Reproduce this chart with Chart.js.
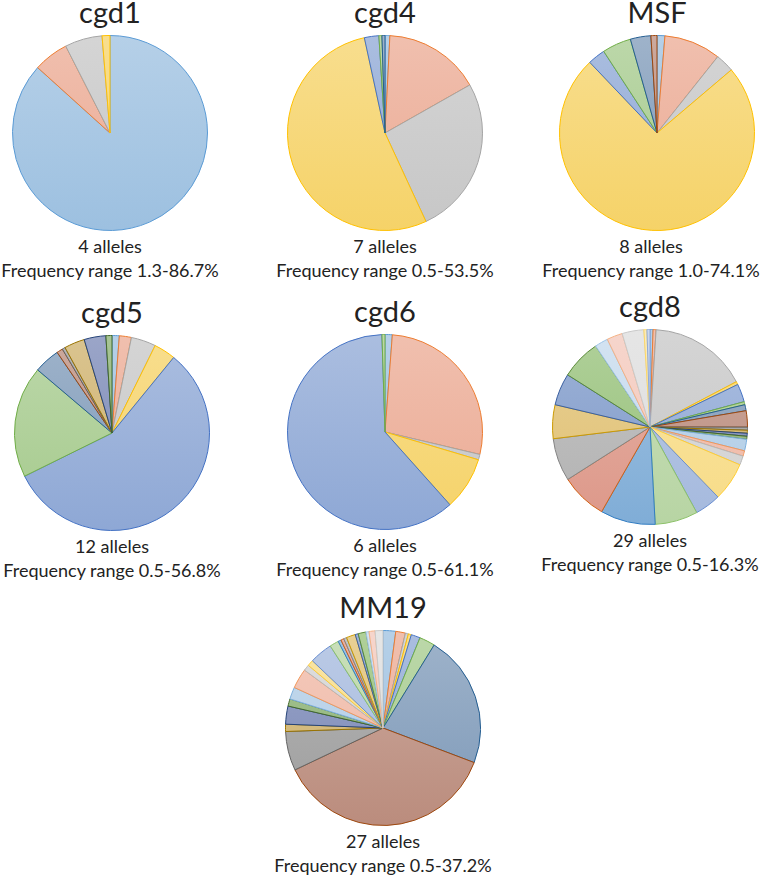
<!DOCTYPE html>
<html>
<head>
<meta charset="utf-8">
<script src="https://cdn.jsdelivr.net/npm/chart.js@4.4.0/dist/chart.umd.min.js"></script>
<style>
  body { margin: 0; background: #fff; }
  #page { position: relative; width: 764px; height: 878px; font-family: Lato, "Noto Sans", sans-serif; color: #222; }
  canvas { position: absolute; }
  .title { position: absolute; width: 240px; text-align: center; font-size: 29px; line-height: 30px; }
  .note { position: absolute; width: 270px; text-align: center; font-size: 18px; line-height: 24px; }
</style>
</head>
<body>
<div id="page"></div>
<script>
// loci shown, one pie each
const loci = ["cgd1", "cgd4", "MSF", "cgd5", "cgd6", "cgd8", "MM19"];
const alleleCounts = [4, 7, 8, 12, 6, 29, 27];
const freqRanges = ["1.3-86.7%", "0.5-53.5%", "1.0-74.1%", "0.5-56.8%", "0.5-61.1%", "0.5-16.3%", "0.5-37.2%"];

// allele frequencies (%) in slice order, clockwise from 12 o'clock
const cgd1Freq = [86.7, 5.8, 6.2, 1.3];
const cgd4Freq = [0.8, 16.0, 26.3, 53.5, 2.4, 0.5, 0.5];
const msfFreq = [1.3, 9.4, 3.1, 74.1, 2.9, 4.8, 3.4, 1.0];
const cgd5Freq = [1.2, 2.0, 4.1, 3.6, 56.8, 18.5, 4.3, 1.0, 0.5, 3.4, 3.6, 1.0];
const cgd6Freq = [1.2, 27.5, 0.9, 8.8, 61.1, 0.5];
const cgd8Freq = [0.5, 0.5, 16.3, 0.5, 3.0, 0.5, 1.0, 2.7, 0.5, 0.5, 0.5, 0.5, 1.9, 0.9, 1.5,
  6.4, 4.3, 7.1, 9.1, 7.7, 7.1, 5.6, 5.3, 6.6, 2.2, 2.6, 3.6, 0.5, 0.5];
const mm19Freq = [2.1, 1.6, 0.5, 0.5, 1.5, 2.6, 22.0, 37.2, 6.5, 1.2, 3.0, 1.2, 2.0, 3.3,
  1.0, 1.0, 3.8, 1.5, 0.5, 0.5, 0.5, 1.5, 0.5, 1.3, 0.5, 1.0, 1.3];

const freqs = [cgd1Freq, cgd4Freq, msfFreq, cgd5Freq, cgd6Freq, cgd8Freq, mm19Freq];

// office style palette: outline colours
const palette = [
  "#5B9BD5", "#ED7D31", "#A5A5A5", "#FFC000", "#4472C4", "#70AD47",
  "#255E91", "#9E480E", "#636363", "#997300", "#264478", "#43682B",
  "#7CAFDD", "#F1975A", "#B7B7B7", "#FFCD33", "#698ED0", "#8CC168",
  "#327DC2", "#D26012", "#848484", "#CC9A00", "#3A5FA0", "#5A8A39",
  "#9DC3E6", "#F4B183", "#C9C9C9", "#FFD966", "#8FAADC"
];
// fill colours (before the light gradient), oranges drift to red and darks go greyer like the original
const fillPalette = [
  "#5B9BD5", "#E9734A", "#A5A5A5", "#FFC000", "#4472C4", "#70AD47",
  "#405E80", "#84503F", "#636363", "#99782A", "#3C4A78", "#4A6A36",
  "#7CAFDD", "#EE8A68", "#B7B7B7", "#FFCD33", "#698ED0", "#8CC168",
  "#327DC2", "#D2553A", "#848484", "#CC9A20", "#3A5FA0", "#5A8A39",
  "#9DC3E6", "#F2A38C", "#C9C9C9", "#FFD966", "#8FAADC"
];

// pie centre x, y on the page
const centres = [[110, 133], [385, 133], [657, 133], [112, 433], [385, 432], [650, 427], [383, 728]];
// the MSF caption sits a little left of its pie
const noteShift = [0, 0, -6, 0, 0, 0, 0];
const size = 196;

function toHsl(hex) {
  const n = parseInt(hex.slice(1), 16);
  const r = ((n >> 16) & 255) / 255, g = ((n >> 8) & 255) / 255, b = (n & 255) / 255;
  const max = Math.max(r, g, b), min = Math.min(r, g, b);
  const l = (max + min) / 2;
  let h = 0, s = 0;
  if (max !== min) {
    const d = max - min;
    s = d / (1 - Math.abs(2 * l - 1));
    if (max === r) h = ((g - b) / d) % 6;
    else if (max === g) h = (b - r) / d + 2;
    else h = (r - g) / d + 4;
    h *= 60;
    if (h < 0) h += 360;
  }
  return [h, s, l];
}

function lighten(hex, amount, satMul) {
  const [h, s0, l0] = toHsl(hex);
  const l = l0 + (1 - l0) * amount;
  const s = s0 * satMul;
  return "hsl(" + h.toFixed(1) + "," + (s * 100).toFixed(1) + "%," + (l * 100).toFixed(1) + "%)";
}

const page = document.getElementById("page");

loci.forEach((name, i) => {
  const [cx, cy] = centres[i];

  const title = document.createElement("div");
  title.className = "title";
  title.style.left = (cx - 120) + "px";
  title.style.top = (cy - size / 2 - 38) + "px";
  title.textContent = name;
  page.appendChild(title);

  const canvas = document.createElement("canvas");
  canvas.width = size;
  canvas.height = size;
  canvas.style.left = (cx - size / 2) + "px";
  canvas.style.top = (cy - size / 2) + "px";
  page.appendChild(canvas);

  const note = document.createElement("div");
  note.className = "note";
  note.style.left = (cx - 135 + noteShift[i]) + "px";
  note.style.top = (cy + size / 2 + 3) + "px";
  note.innerHTML = alleleCounts[i] + " alleles<br>Frequency range " + freqRanges[i];
  page.appendChild(note);

  const values = freqs[i];
  const outlines = values.map((v, k) => palette[k % palette.length]);
  const fills = values.map((v, k) => fillPalette[k % fillPalette.length]);

  new Chart(canvas, {
    type: "pie",
    data: {
      labels: values.map((v, k) => "Allele " + (k + 1)),
      datasets: [
        {
          data: values,
          borderColor: outlines,
          borderWidth: 1,
          backgroundColor: (ctx) => {
            const base = fills[ctx.dataIndex];
            const area = ctx.chart.chartArea;
            if (!area) return lighten(base, 0.45, 0.9);
            const grad = ctx.chart.ctx.createLinearGradient(0, area.top, 0, area.bottom);
            grad.addColorStop(0, lighten(base, 0.53, 0.88));
            grad.addColorStop(1, lighten(base, 0.37, 0.88));
            return grad;
          }
        }
      ]
    },
    options: {
      responsive: false,
      animation: false,
      layout: { padding: 0 },
      plugins: {
        legend: { display: false },
        tooltip: { enabled: false }
      }
    }
  });
});
</script>
</body>
</html>
